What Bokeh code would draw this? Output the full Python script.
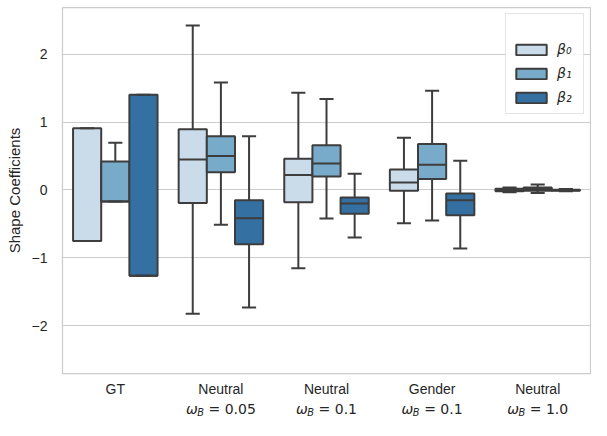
from bokeh.plotting import figure
from bokeh.models import ColumnDataSource, Range1d, FixedTicker, Legend, LegendItem
from bokeh.layouts import column
from bokeh.embed import file_html
from bokeh.resources import INLINE

# ---------------- data ----------------
groups = ["GT", "Neutral", "Neutral", "Gender", "Neutral"]
omega_b = ["", "0.05", "0.1", "0.1", "1.0"]
series = ["β₀", "β₁", "β₂"]
colors = ["#cadbea", "#78aac9", "#3470a2"]
y_ticks = [-2, -1, 0, 1, 2]

# box statistics per group: lower whisker, Q1, median, Q3, upper whisker
b0_lo  = [-0.75, -1.82, -1.15, -0.49, -0.035]
b0_q1  = [-0.75, -0.19, -0.18, -0.01, -0.02]
b0_med = [-0.75,  0.45,  0.22,  0.11,  0.00]
b0_q3  = [ 0.91,  0.895, 0.46,  0.30,  0.02]
b0_hi  = [ 0.91,  2.42,  1.43,  0.77,  0.035]

b1_lo  = [-0.17, -0.51, -0.42, -0.45, -0.045]
b1_q1  = [-0.17,  0.26,  0.20,  0.16, -0.01]
b1_med = [-0.17,  0.50,  0.39,  0.37,  0.015]
b1_q3  = [ 0.42,  0.79,  0.66,  0.675, 0.035]
b1_hi  = [ 0.695, 1.58,  1.34,  1.46,  0.08]

b2_lo  = [-1.26, -1.73, -0.70, -0.86, -0.02]
b2_q1  = [-1.26, -0.80, -0.35, -0.37, -0.01]
b2_med = [-1.26, -0.415, -0.20, -0.15, -0.003]
b2_q3  = [ 1.40, -0.15, -0.11, -0.05,  0.005]
b2_hi  = [ 1.40,  0.79,  0.24,  0.43,  0.015]

stats = [
    (b0_lo, b0_q1, b0_med, b0_q3, b0_hi),
    (b1_lo, b1_q1, b1_med, b1_q3, b1_hi),
    (b2_lo, b2_q1, b2_med, b2_q3, b2_hi),
]

# ---------------- styling ----------------
EDGE = "#3d3d3d"
TXT = "#262626"
GRID = "#cccccc"
TICK_FONT = "Liberation Sans"
MATH_FONT = "DejaVu Sans"
FS = 14
W_TOTAL = 591
LEFT = 62
RIGHT = 1

n = len(groups)
box_w = 0.8 / 3

p = figure(width=W_TOTAL, height=399,
           x_range=Range1d(0, n), y_range=Range1d(-2.70, 2.685),
           output_backend="svg", toolbar_location=None,
           min_border_left=LEFT, min_border_right=RIGHT,
           min_border_top=7, min_border_bottom=25)

p.background_fill_color = "white"
p.border_fill_color = "white"
p.outline_line_color = GRID
p.outline_line_width = 1.25

p.xgrid.visible = False
p.ygrid.grid_line_color = GRID
p.ygrid.grid_line_width = 1

p.yaxis.ticker = FixedTicker(ticks=y_ticks)
p.yaxis.major_label_overrides = {t: (("−" + str(abs(t))) if t < 0 else str(t)) for t in y_ticks}
p.xaxis.ticker = FixedTicker(ticks=[i + 0.5 for i in range(n)])
p.xaxis.major_label_overrides = {i + 0.5: g for i, g in enumerate(groups)}

for ax in (p.xaxis[0], p.yaxis[0]):
    ax.axis_line_color = None
    ax.major_tick_line_color = None
    ax.minor_tick_line_color = None
    ax.major_tick_out = 0
    ax.major_tick_in = 0
    ax.major_label_text_font = TICK_FONT
    ax.major_label_text_font_size = f"{FS}px"
    ax.major_label_text_color = TXT

p.yaxis.major_label_standoff = 15
p.xaxis.major_label_standoff = 7
p.yaxis.axis_label = "Shape Coefficients"
p.yaxis.axis_label_text_font = TICK_FONT
p.yaxis.axis_label_text_font_size = "15px"
p.yaxis.axis_label_text_font_style = "normal"
p.yaxis.axis_label_text_color = TXT
p.yaxis.axis_label_standoff = 6

legend_items = []
for k, (lo, q1, med, q3, hi) in enumerate(stats):
    xs = [i + 0.5 + (k - 1) * box_w for i in range(n)]
    src = ColumnDataSource(dict(
        x=xs, lo=lo, q1=q1, med=med, q3=q3, hi=hi,
        c0=[x - box_w / 4 for x in xs], c1=[x + box_w / 4 for x in xs],
        m0=[x - box_w / 2 for x in xs], m1=[x + box_w / 2 for x in xs],
    ))
    p.segment(x0="x", y0="q3", x1="x", y1="hi", source=src, line_color=EDGE, line_width=2)
    p.segment(x0="x", y0="q1", x1="x", y1="lo", source=src, line_color=EDGE, line_width=2)
    r = p.vbar(x="x", width=box_w, top="q3", bottom="q1", source=src,
               fill_color=colors[k], line_color=EDGE, line_width=2)
    p.segment(x0="c0", y0="hi", x1="c1", y1="hi", source=src, line_color=EDGE, line_width=2)
    p.segment(x0="c0", y0="lo", x1="c1", y1="lo", source=src, line_color=EDGE, line_width=2)
    p.segment(x0="m0", y0="med", x1="m1", y1="med", source=src, line_color=EDGE, line_width=2)
    legend_items.append(LegendItem(label=series[k], renderers=[r]))

legend = Legend(items=legend_items, location="top_right", title=" ",
                title_text_font_size="13px", title_standoff=4,
                border_line_color=GRID, border_line_width=1,
                background_fill_color="white", background_fill_alpha=0.85,
                padding=6, spacing=4, margin=6,
                label_height=20, glyph_height=13, glyph_width=38,
                label_standoff=7,
                label_text_font=MATH_FONT, label_text_font_size=f"{FS}px",
                label_text_font_style="italic", label_text_color=TXT)
p.add_layout(legend)

# ---------------- second line of x labels: omega_B = value ----------------
P2_H = 21
p2 = figure(width=W_TOTAL, height=P2_H, x_range=p.x_range, y_range=Range1d(0, P2_H),
            output_backend="svg", toolbar_location=None,
            x_axis_location=None, y_axis_location=None,
            min_border_left=LEFT, min_border_right=RIGHT,
            min_border_top=0, min_border_bottom=0)
p2.grid.visible = False
p2.outline_line_color = None
p2.background_fill_color = "white"
p2.border_fill_color = "white"

w_omega = 0.80 * FS
w_sub = 0.70 * 0.70 * FS
w_gap = 0.32 * FS
xs_o, off_o, off_b, off_r, rest_txt = [], [], [], [], []
for i, v in enumerate(omega_b):
    if not v:
        continue
    rest = "= " + v
    w_rest = (0.838 + 0.318) * FS + sum(0.318 if ch == "." else 0.636 for ch in v) * FS
    W = w_omega + w_sub + w_gap + w_rest
    x0 = -W / 2
    xs_o.append(i + 0.5)
    off_o.append(x0)
    off_b.append(x0 + w_omega)
    off_r.append(x0 + w_omega + w_sub + w_gap)
    rest_txt.append(rest)

y_mid = [P2_H - 9] * len(xs_o)
p2.text(x=xs_o, y=y_mid, text=["ω"] * len(xs_o), x_offset=off_o,
        text_font={"value": MATH_FONT}, text_font_size={"value": f"{FS}px"},
        text_font_style="italic", text_color=TXT,
        text_baseline="middle", text_align="left")
p2.text(x=xs_o, y=y_mid, text=["B"] * len(xs_o), x_offset=off_b, y_offset=4,
        text_font={"value": MATH_FONT}, text_font_size={"value": f"{0.7 * FS:.1f}px"},
        text_font_style="italic", text_color=TXT,
        text_baseline="middle", text_align="left")
p2.text(x=xs_o, y=y_mid, text=rest_txt, x_offset=off_r,
        text_font={"value": MATH_FONT}, text_font_size={"value": f"{FS}px"},
        text_font_style="normal", text_color=TXT,
        text_baseline="middle", text_align="left")

layout = column(p, p2, spacing=0)
open("out.html", "w").write(file_html(layout, INLINE))
